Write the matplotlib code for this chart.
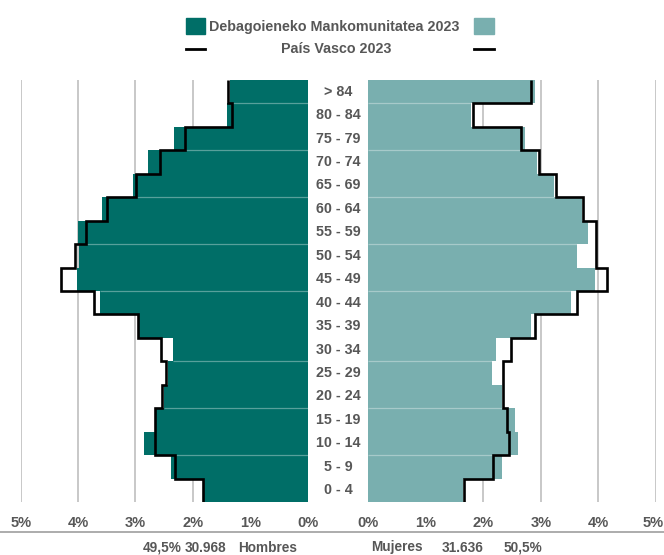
import numpy as np
import matplotlib
matplotlib.use('Agg')
import matplotlib.pyplot as plt
import matplotlib.font_manager as fm
from matplotlib.patches import Rectangle
from matplotlib.lines import Line2D
from matplotlib.transforms import ScaledTranslation

# age groups, from youngest (bottom) to oldest (top)
ages = ['0 - 4', '5 - 9', '10 - 14', '15 - 19', '20 - 24', '25 - 29', '30 - 34',
        '35 - 39', '40 - 44', '45 - 49', '50 - 54', '55 - 59', '60 - 64',
        '65 - 69', '70 - 74', '75 - 79', '80 - 84', '> 84']

# % of total population
hombres_deba = [1.81, 2.38, 2.85, 2.64, 2.50, 2.44, 2.34, 2.96, 3.61, 4.01,
                3.98, 4.00, 3.59, 3.05, 2.78, 2.33, 1.41, 1.35]
hombres_pv = [1.82, 2.31, 2.66, 2.66, 2.54, 2.47, 2.55, 2.95, 3.72, 4.30,
              4.05, 3.87, 3.50, 2.99, 2.57, 2.13, 1.32, 1.38]
mujeres_deba = [1.65, 2.32, 2.61, 2.55, 2.32, 2.15, 2.22, 2.83, 3.53, 3.94,
                3.62, 3.82, 3.71, 3.22, 2.94, 2.73, 1.79, 2.90]
mujeres_pv = [1.67, 2.16, 2.45, 2.41, 2.34, 2.34, 2.48, 2.89, 3.63, 4.15,
              3.95, 3.95, 3.73, 3.26, 2.96, 2.65, 1.82, 2.82]

ticks = [0, 1, 2, 3, 4, 5]
tick_labels = ['0%', '1%', '2%', '3%', '4%', '5%']

legend_deba = 'Debagoieneko Mankomunitatea 2023'
legend_pv = 'País Vasco 2023'
tot_h = ['49,5%', '30.968', 'Hombres']
tot_m = ['Mujeres', '31.636', '50,5%']

dark = '#006E67'
light = '#79AFAF'
grey_txt = '#575757'
grid_c = '#BFBFBF'

names = {f.name for f in fm.fontManager.ttflist}
if 'Liberation Sans Narrow' in names:
    fam = 'Liberation Sans Narrow'
    k = 1.2
else:
    fam = 'Liberation Sans'
    k = 1.0
plt.rcParams['font.family'] = [fam, 'DejaVu Sans']

W, H = 664, 555
fig = plt.figure(figsize=(W / 100, H / 100), dpi=100)

def fx(px):
    return px / W

def fy(py):
    return 1 - py / H

top, bot = 80, 502
axL = fig.add_axes([fx(20.7), fy(bot), fx(307.5 - 20.7), (bot - top) / H])
axR = fig.add_axes([fx(368.3), fy(bot), fx(656 - 368.3), (bot - top) / H])

y = np.arange(len(ages))
edges = np.arange(len(ages) + 1) - 0.5
seams = [16.5, 14.5, 12.5, 10.5, 8.5, 5.5, 3.5, 1.5]

for ax, deba, pv, col in [(axL, hombres_deba, hombres_pv, dark),
                          (axR, mujeres_deba, mujeres_pv, light)]:
    ax.barh(y, deba, height=1.0, color=col, zorder=2)
    ax.stairs(pv, edges, orientation='horizontal', baseline=None,
              color='black', lw=1.9, zorder=4)
    for s in seams:
        i = int(s - 0.5)
        ax.hlines(s, 0, min(deba[i], deba[i + 1]), color='white',
                  alpha=0.35, lw=0.9, zorder=3)
    ax.set_xlim(0, 5)
    ax.set_ylim(-0.5, len(ages) - 0.5)
    ax.set_xticks(ticks)
    ax.set_xticklabels(tick_labels, color=grey_txt, fontsize=10.5 * k,
                       fontweight='bold')
    ax.tick_params(axis='x', length=0, pad=10)
    ax.set_yticks([])
    ax.grid(axis='x', color=grid_c, lw=1.2, zorder=0)
    ax.set_axisbelow(True)
    for sp in ax.spines.values():
        sp.set_visible(False)
axL.invert_xaxis()

# last label on the right sits on the edge of the figure
lab = axR.get_xticklabels()[-1]
lab.set_ha('right')
lab.set_transform(lab.get_transform() +
                  ScaledTranslation(8 / 100, 0, fig.dpi_scale_trans))

# age labels in the middle
for i, a in enumerate(ages):
    yy = top + (len(ages) - 1 - i + 0.5) * (bot - top) / len(ages)
    fig.text(fx(338), fy(yy), a, ha='center', va='center',
             color=grey_txt, fontsize=10.3 * k, fontweight='bold')

# legend
fig.patches.append(Rectangle((fx(186), fy(34)), fx(19), 16 / H,
                             color=dark, transform=fig.transFigure))
fig.patches.append(Rectangle((fx(474), fy(34)), fx(20), 16 / H,
                             color=light, transform=fig.transFigure))
for x0, x1 in [(186, 205), (474, 494)]:
    fig.add_artist(Line2D([fx(x0), fx(x1)], [fy(49), fy(49)],
                          color='black', lw=2, transform=fig.transFigure))
fig.text(fx(334), fy(31), legend_deba, ha='center', va='baseline',
         color=grey_txt, fontsize=10.3 * k, fontweight='bold')
fig.text(fx(336), fy(53), legend_pv, ha='center', va='baseline',
         color=grey_txt, fontsize=10.3 * k, fontweight='bold')

# bottom line and totals
fig.add_artist(Line2D([0, 1], [fy(532), fy(532)], color='#A6A6A6', lw=1.3,
                      transform=fig.transFigure))
for txt, xc in zip(tot_h + tot_m, [162, 205, 268, 397, 463, 523]):
    fig.text(fx(xc), fy(551.5), txt, ha='center', va='baseline',
             color=grey_txt, fontsize=9.8 * k, fontweight='bold')

fig.savefig('out.png', dpi=100)
